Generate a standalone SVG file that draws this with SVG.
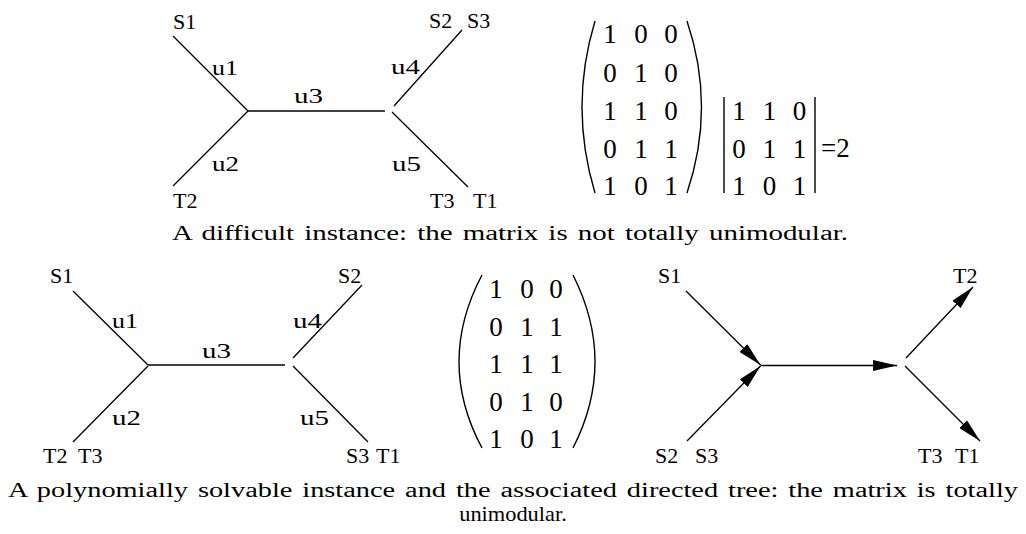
<svg xmlns="http://www.w3.org/2000/svg" width="1026" height="534" viewBox="0 0 1026 534">
<style>
.e{stroke:#000;stroke-width:1.3;fill:none}
.p{stroke:#000;stroke-width:1.4;fill:none}
.l{font-family:"Liberation Serif","Times New Roman",serif;font-size:22px;fill:#000}
.u{font-family:"Liberation Serif","Times New Roman",serif;font-size:22px;fill:#000}
.m{font-family:"Liberation Serif","Times New Roman",serif;font-size:27px;fill:#000;text-anchor:middle}
.c{font-family:"Liberation Serif","Times New Roman",serif;font-size:20px;word-spacing:2px;fill:#000}
</style>
<defs>
<marker id="ah" viewBox="0 0 24 11" refX="24" refY="5.5" markerWidth="24" markerHeight="11" markerUnits="userSpaceOnUse" orient="auto">
<path d="M0,0 L24,5.5 L0,11 z" fill="#000"/>
</marker>
</defs>
<rect width="1026" height="534" fill="#fff"/>

<g id="connectors">
<line class="e" x1="173" y1="36" x2="248" y2="111"/>
<line class="e" x1="248" y1="111" x2="173" y2="186"/>
<line class="e" x1="248" y1="111" x2="385" y2="111"/>
<line class="e" x1="394" y1="106" x2="462" y2="30"/>
<line class="e" x1="392" y1="112" x2="468" y2="187"/>
<line class="e" x1="73" y1="291" x2="148" y2="365"/>
<line class="e" x1="148" y1="366" x2="73" y2="442"/>
<line class="e" x1="148" y1="365" x2="285" y2="365"/>
<line class="e" x1="293" y1="358" x2="362" y2="285"/>
<line class="e" x1="293" y1="366" x2="368" y2="442"/>
<line class="e" x1="686" y1="291" x2="760.5" y2="365" marker-end="url(#ah)"/>
<line class="e" x1="687" y1="441" x2="760.5" y2="366" marker-end="url(#ah)"/>
<line class="e" x1="760.5" y1="365.5" x2="897" y2="365.5" marker-end="url(#ah)"/>
<line class="e" x1="906" y1="358" x2="973" y2="287" marker-end="url(#ah)"/>
<line class="e" x1="905" y1="366" x2="980" y2="441" marker-end="url(#ah)"/>
</g>

<g id="tree1-labels">
<text class="l" x="173" y="29">S1</text>
<text class="u" x="212" y="75" textLength="26" lengthAdjust="spacingAndGlyphs">u1</text>
<text class="u" x="212" y="171" textLength="27" lengthAdjust="spacingAndGlyphs">u2</text>
<text class="l" x="173" y="208">T2</text>
<text class="u" x="294" y="103" textLength="29" lengthAdjust="spacingAndGlyphs">u3</text>
<text class="l" x="429" y="28">S2</text>
<text class="l" x="467" y="28">S3</text>
<text class="u" x="391" y="74" textLength="29" lengthAdjust="spacingAndGlyphs">u4</text>
<text class="u" x="392" y="171" textLength="29" lengthAdjust="spacingAndGlyphs">u5</text>
<text class="l" x="430" y="208">T3</text>
<text class="l" x="473" y="208">T1</text>
</g>

<g id="matrix1">
<path class="p" d="M595,21 Q569,107 595,193"/>
<path class="p" d="M687,21 Q716,107 687,193"/>
<text class="m" x="610" y="43">1</text><text class="m" x="641" y="43">0</text><text class="m" x="671" y="43">0</text>
<text class="m" x="610" y="82">0</text><text class="m" x="641" y="82">1</text><text class="m" x="671" y="82">0</text>
<text class="m" x="610" y="120">1</text><text class="m" x="641" y="120">1</text><text class="m" x="671" y="120">0</text>
<text class="m" x="610" y="158">0</text><text class="m" x="641" y="158">1</text><text class="m" x="671" y="158">1</text>
<text class="m" x="610" y="195">1</text><text class="m" x="641" y="195">0</text><text class="m" x="671" y="195">1</text>
</g>

<g id="determinant">
<line class="p" x1="724" y1="97" x2="724" y2="193"/>
<line class="p" x1="815" y1="97" x2="815" y2="193"/>
<text class="m" x="739" y="120">1</text><text class="m" x="769.5" y="120">1</text><text class="m" x="799.5" y="120">0</text>
<text class="m" x="739" y="158">0</text><text class="m" x="769.5" y="158">1</text><text class="m" x="799.5" y="158">1</text>
<text class="m" x="739" y="195">1</text><text class="m" x="769.5" y="195">0</text><text class="m" x="799.5" y="195">1</text>
<text class="l" x="821" y="157" style="font-size:27px">=2</text>
</g>

<g id="caption1">
<text class="c" x="172" y="240" textLength="676" lengthAdjust="spacingAndGlyphs">A difficult instance: the matrix is not totally unimodular.</text>
</g>

<g id="tree2-labels">
<text class="l" x="50" y="283">S1</text>
<text class="u" x="112" y="328" textLength="26" lengthAdjust="spacingAndGlyphs">u1</text>
<text class="u" x="202" y="358" textLength="29" lengthAdjust="spacingAndGlyphs">u3</text>
<text class="u" x="112" y="425" textLength="29" lengthAdjust="spacingAndGlyphs">u2</text>
<text class="l" x="43" y="463">T2</text>
<text class="l" x="78" y="463">T3</text>
<text class="l" x="338" y="283">S2</text>
<text class="u" x="293" y="328" textLength="29" lengthAdjust="spacingAndGlyphs">u4</text>
<text class="u" x="300" y="425" textLength="29" lengthAdjust="spacingAndGlyphs">u5</text>
<text class="l" x="346" y="463">S3</text>
<text class="l" x="376" y="463">T1</text>
</g>

<g id="matrix2">
<path class="p" d="M482,275 Q436,362 482,448"/>
<path class="p" d="M573,275 Q617,362 573,448"/>
<text class="m" x="496" y="298">1</text><text class="m" x="527" y="298">0</text><text class="m" x="556" y="298">0</text>
<text class="m" x="496" y="336">0</text><text class="m" x="527" y="336">1</text><text class="m" x="556" y="336">1</text>
<text class="m" x="496" y="373">1</text><text class="m" x="527" y="373">1</text><text class="m" x="556" y="373">1</text>
<text class="m" x="496" y="411">0</text><text class="m" x="527" y="411">1</text><text class="m" x="556" y="411">0</text>
<text class="m" x="496" y="448">1</text><text class="m" x="527" y="448">0</text><text class="m" x="556" y="448">1</text>
</g>

<g id="tree3-labels">
<text class="l" x="658" y="283">S1</text>
<text class="l" x="953" y="283">T2</text>
<text class="l" x="655" y="463">S2</text>
<text class="l" x="695" y="463">S3</text>
<text class="l" x="918" y="463">T3</text>
<text class="l" x="955" y="463">T1</text>
</g>

<g id="caption2">
<text class="c" x="8" y="497" textLength="1010" lengthAdjust="spacingAndGlyphs">A polynomially solvable instance and the associated directed tree: the matrix is totally</text>
<text class="c" x="513" y="521" text-anchor="middle" transform="translate(513,521) scale(1.12,1) translate(-513,-521)">unimodular.</text>
</g>
</svg>
